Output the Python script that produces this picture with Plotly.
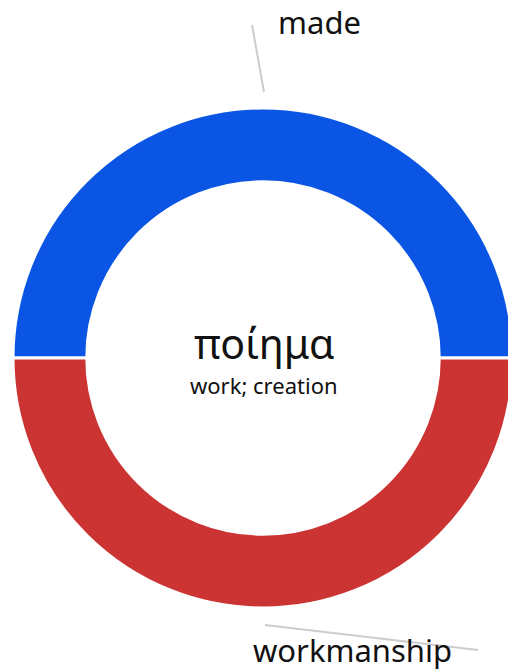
import plotly.graph_objects as go

labels = ["made", "workmanship"]
values = [1, 1]
colors = ["#0b55e4", "#cc3434"]
center_word = "ποίημα"
center_gloss = "work; creation"

W, H = 526, 671
ML, MR, MT, MB = 13, 13, 108, 63
PW, PH = W - ML - MR, H - MT - MB


def px(x):
    return (x - ML) / PW


def py(y):
    return (H - MB - y) / PH


FONT = "Noto Sans"

fig = go.Figure(
    go.Pie(
        labels=labels,
        values=values,
        hole=0.705,
        sort=False,
        direction="clockwise",
        rotation=270,
        marker=dict(colors=colors, line=dict(color="white", width=3)),
        textinfo="none",
        hoverinfo="label",
        showlegend=False,
    )
)

# leader lines
fig.add_shape(type="line", xref="paper", yref="paper",
              x0=px(264), y0=py(92), x1=px(252), y1=py(25),
              line=dict(color="#cccccc", width=2))
fig.add_shape(type="line", xref="paper", yref="paper",
              x0=px(265), y0=py(625), x1=px(478), y1=py(650),
              line=dict(color="#cccccc", width=2))

fig.add_annotation(x=px(276), y=py(22), xref="paper", yref="paper",
                   text=labels[0], showarrow=False, xanchor="left", yanchor="middle",
                   font=dict(family=FONT, size=31, color="#111111"))
fig.add_annotation(x=px(251), y=py(650), xref="paper", yref="paper",
                   text=labels[1], showarrow=False, xanchor="left", yanchor="middle",
                   font=dict(family=FONT, size=31, color="#111111"))

fig.add_annotation(x=px(264), y=py(343), xref="paper", yref="paper",
                   text=center_word, showarrow=False, xanchor="center", yanchor="middle",
                   font=dict(family=FONT, size=41, color="#111111"))
fig.add_annotation(x=px(264), y=py(385), xref="paper", yref="paper",
                   text=center_gloss, showarrow=False, xanchor="center", yanchor="middle",
                   font=dict(family=FONT, size=22, color="#111111"))

fig.update_layout(
    width=W, height=H,
    margin=dict(l=ML, r=MR, t=MT, b=MB, pad=0),
    paper_bgcolor="white", plot_bgcolor="white",
)

fig.write_html(
    "out.html",
    config={"displayModeBar": False},
    post_script="document.body.style.margin='0';document.body.style.overflow='hidden';document.documentElement.style.overflow='hidden';",
)
